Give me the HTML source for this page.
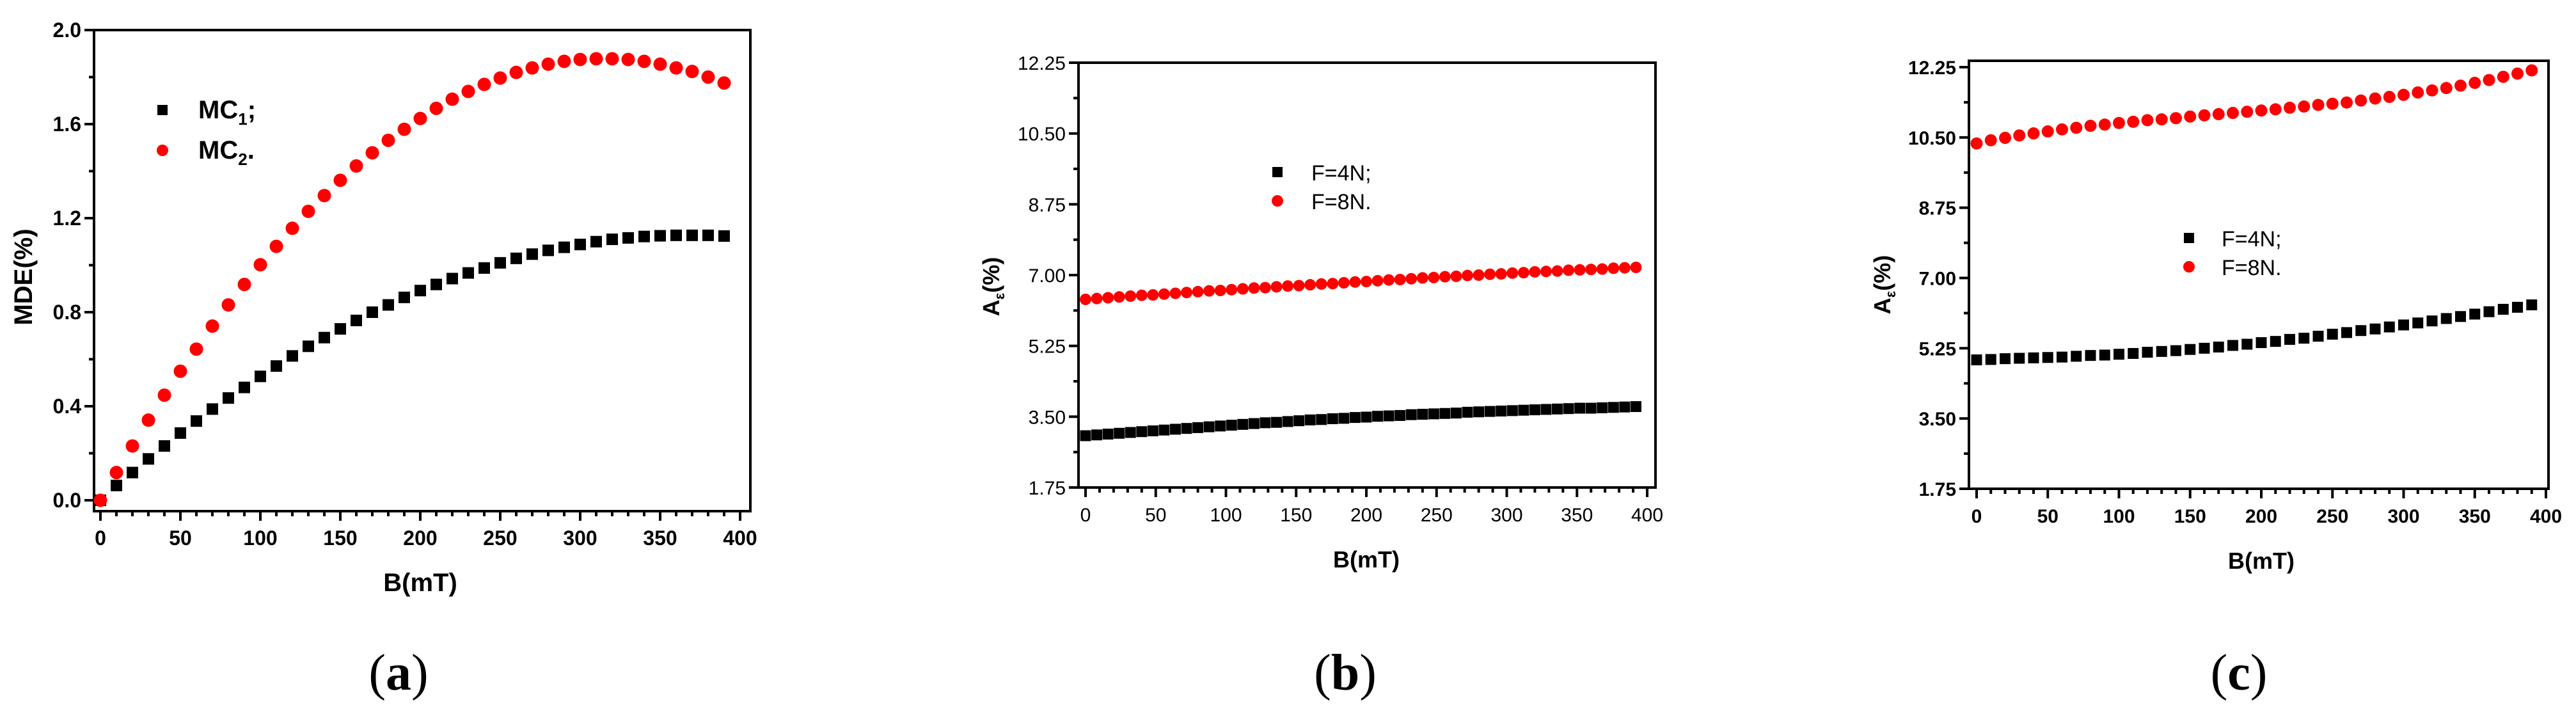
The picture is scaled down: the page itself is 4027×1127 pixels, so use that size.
<!DOCTYPE html>
<html><head><meta charset="utf-8"><style>
html,body{margin:0;padding:0;background:#fff}
svg{display:block}
text{font-family:"Liberation Sans",Arial,sans-serif}
</style></head><body>
<svg id="fig" width="4027" height="1127" viewBox="0 0 4027 1127" xmlns="http://www.w3.org/2000/svg"></svg>
<script>
// Panel (a) data
const aX = [0,10,20,30,40,50,60,70,80,90,100,110,120,130,140,150,160,170,180,190,200,210,220,230,240,250,260,270,280,290,300,310,320,330,340,350,360,370,380,390];
const aMC1 = [0,0.063,0.118,0.176,0.231,0.286,0.337,0.388,0.435,0.48,0.527,0.571,0.614,0.655,0.692,0.729,0.765,0.8,0.831,0.863,0.892,0.918,0.943,0.967,0.988,1.01,1.029,1.047,1.063,1.076,1.088,1.1,1.11,1.116,1.122,1.125,1.127,1.127,1.127,1.124];
const aMC2 = [0,0.118,0.231,0.341,0.447,0.549,0.643,0.741,0.831,0.918,1.002,1.08,1.157,1.229,1.296,1.361,1.422,1.478,1.531,1.578,1.624,1.667,1.706,1.739,1.769,1.796,1.82,1.839,1.855,1.867,1.875,1.878,1.878,1.875,1.867,1.855,1.839,1.824,1.8,1.775];
const aYTicks = ["0.0","0.4","0.8","1.2","1.6","2.0"];
const xTicks = ["0","50","100","150","200","250","300","350","400"];
// Panel (b) data
const bX = [0,8,16,24,32,40,48,56,64,72,80,88,96,104,112,120,128,136,144,152,160,168,176,184,192,200,208,216,224,232,240,248,256,264,272,280,288,296,304,312,320,328,336,344,352,360,368,376,384,392];
const bF4 = [3.03,3.05,3.07,3.09,3.11,3.13,3.15,3.17,3.19,3.21,3.23,3.25,3.27,3.29,3.31,3.33,3.35,3.36,3.38,3.40,3.42,3.43,3.45,3.46,3.48,3.49,3.51,3.52,3.53,3.55,3.56,3.57,3.58,3.59,3.61,3.62,3.63,3.64,3.65,3.66,3.67,3.68,3.69,3.70,3.71,3.71,3.72,3.73,3.74,3.75];
const bF8 = [6.40,6.42,6.44,6.46,6.48,6.50,6.51,6.53,6.55,6.57,6.59,6.61,6.62,6.64,6.66,6.68,6.69,6.71,6.73,6.74,6.76,6.78,6.79,6.81,6.83,6.84,6.86,6.88,6.89,6.91,6.93,6.94,6.96,6.97,6.99,7.00,7.02,7.03,7.05,7.06,7.08,7.09,7.10,7.12,7.13,7.14,7.15,7.17,7.18,7.19];
const aeTicks = ["1.75","3.50","5.25","7.00","8.75","10.50","12.25"];
// Panel (c) data
const cX = aX;
const cF4 = [4.96,4.97,4.99,5.00,5.01,5.02,5.03,5.05,5.07,5.08,5.10,5.12,5.15,5.17,5.19,5.22,5.25,5.28,5.32,5.35,5.39,5.42,5.47,5.50,5.55,5.60,5.64,5.69,5.73,5.78,5.83,5.88,5.93,5.99,6.04,6.10,6.16,6.22,6.27,6.33];
const cF8 = [10.35,10.43,10.49,10.55,10.60,10.65,10.70,10.74,10.79,10.82,10.86,10.89,10.93,10.95,10.98,11.02,11.05,11.08,11.11,11.14,11.17,11.20,11.24,11.27,11.31,11.34,11.37,11.42,11.47,11.51,11.56,11.62,11.67,11.73,11.79,11.86,11.93,12.01,12.09,12.17];

const NS="http://www.w3.org/2000/svg";
const svg=document.getElementById('fig');
function mk(tag,attrs,parent){const e=document.createElementNS(NS,tag);for(const k in attrs)e.setAttribute(k,attrs[k]);(parent||svg).appendChild(e);return e;}

function panel(p){
  const g=mk('g',{});
  
  
  const sx=v=>p.x0px+(v-0)*(p.x400px-p.x0px)/400;
  const ymin=parseFloat(p.yTicks[0]), ymax=parseFloat(p.yTicks[p.yTicks.length-1]);
  const sy=v=>p.yMinPx+(v-ymin)*(p.yMaxPx-p.yMinPx)/(ymax-ymin);
  const fr=mk('rect',{x:p.L,y:p.T,width:p.R-p.L,height:p.B-p.T,fill:'none',stroke:'#000','stroke-width':4},g);
  
  
  const xt=mk('g',{},g);
  
  
  for(let v=0;v<=400;v+=10){
    const major=v%50===0;
    mk('line',{x1:sx(v),x2:sx(v),y1:p.B,y2:p.B+(major?15:8),stroke:'#000','stroke-width':4},xt);
  }
  xTicks.forEach(t=>{
    const tx=mk('text',{x:sx(+t),y:p.B+53,'text-anchor':'middle','font-size':p.tickFs,'font-weight':p.tickBold?'bold':'normal'},xt);
    tx.textContent=t;
    
    
  });
  const yt=mk('g',{},g);
  
  
  const step=(parseFloat(p.yTicks[1])-ymin);
  for(let i=0;i<p.yTicks.length;i++){
    const v=ymin+i*step;
    mk('line',{x1:p.L-15,x2:p.L,y1:sy(v),y2:sy(v),stroke:'#000','stroke-width':4},yt);
    if(i<p.yTicks.length-1) mk('line',{x1:p.L-8,x2:p.L,y1:sy(v+step/2),y2:sy(v+step/2),stroke:'#000','stroke-width':4},yt);
    const tx=mk('text',{x:p.L-20,y:sy(v)+11,'text-anchor':'end','font-size':p.tickFs,'font-weight':p.tickBold?'bold':'normal'},yt);
    tx.textContent=p.yTicks[i];
    
    
  }
  const s1=mk('g',{},g);
  
  
  p.xs.forEach((x,i)=>{
    const r=mk('rect',{x:sx(x)-p.sq/2,y:sy(p.s1[i])-p.sq/2,width:p.sq,height:p.sq,fill:'#000'},s1);
    
    
  });
  const s2=mk('g',{},g);
  
  
  p.xs.forEach((x,i)=>{
    const c=mk('circle',{cx:sx(x),cy:sy(p.s2[i]),r:p.cr,fill:'#f00'},s2);
    
    
  });
  const lg=mk('g',{},g);
  
  
  mk('rect',{x:p.legX-8,y:p.legY1-8,width:16,height:16,fill:'#000'},lg);
  mk('circle',{cx:p.legX,cy:p.legY2,r:9,fill:'#f00'},lg);
  const l1=mk('text',{x:p.legTX,y:p.legY1+13,'font-size':p.legFs,'font-weight':p.legBold?'bold':'normal'},lg);
  l1.innerHTML=p.leg1;
  
  
  const l2=mk('text',{x:p.legTX,y:p.legY2+13,'font-size':p.legFs,'font-weight':p.legBold?'bold':'normal'},lg);
  l2.innerHTML=p.leg2;
  
  
  const xtl=mk('text',{x:(p.x0px+p.x400px)/2,y:p.B+125,'text-anchor':'middle','font-size':p.titleFs,'font-weight':'bold'},g);
  xtl.textContent='B(mT)';
  
  
  const ytl=mk('text',{x:0,y:0,'text-anchor':'middle','font-size':p.titleFs,'font-weight':'bold',transform:`translate(${p.ytX},${p.ytY}) rotate(-90)`},g);
  ytl.innerHTML=p.yTitle;
  
  
  const cap=mk('text',{x:p.capX,y:1078,'text-anchor':'middle','font-size':80,style:'font-family:"Liberation Serif","DejaVu Serif",serif'},g);
  cap.innerHTML=p.cap;
  
  
}

panel({name:'panel-a',L:147,R:1173,T:47,B:799,x0px:157,x400px:1157,yMinPx:782,yMaxPx:47,yTicks:aYTicks,
  xs:aX,s1:aMC1,s2:aMC2,s1name:'series-mc1',s2name:'series-mc2',sq:18,cr:10.5,tickFs:32,tickBold:true,
  legX:254,legY1:172,legY2:235,legTX:310,legFs:40,legBold:true,
  leg1:'MC<tspan font-size="26" dy="10">1</tspan><tspan dy="-10">;</tspan>',
  leg2:'MC<tspan font-size="26" dy="10">2</tspan><tspan dy="-10">.</tspan>',
  titleFs:40,ytX:50,ytY:433,yTitle:'MDE(%)',capX:623,cap:'(<tspan font-weight="bold">a</tspan>)'});

panel({name:'panel-b',L:1686,R:2588,T:98,B:762,x0px:1697,x400px:2575,yMinPx:762,yMaxPx:98,yTicks:aeTicks,
  xs:bX,s1:bF4,s2:bF8,s1name:'series-f4n',s2name:'series-f8n',sq:17,cr:9,tickFs:30,tickBold:false,
  legX:1997,legY1:269,legY2:314,legTX:2050,legFs:34,legBold:false,
  leg1:'F=4N;',leg2:'F=8N.',
  titleFs:36,ytX:1562,ytY:448,yTitle:'A<tspan font-size="22" dy="8">ε</tspan><tspan dy="-8">(%)</tspan>',capX:2103,cap:'(<tspan font-weight="bold">b</tspan>)'});

panel({name:'panel-c',L:3078,R:3984,T:95,B:764,x0px:3090,x400px:3980,yMinPx:764,yMaxPx:105,yTicks:aeTicks,
  xs:cX,s1:cF4,s2:cF8,s1name:'series-f4n',s2name:'series-f8n',sq:17,cr:9.5,tickFs:30,tickBold:true,
  legX:3422,legY1:372,legY2:417,legTX:3473,legFs:34,legBold:false,
  leg1:'F=4N;',leg2:'F=8N.',
  titleFs:36,ytX:2955,ytY:445,yTitle:'A<tspan font-size="22" dy="8">ε</tspan><tspan dy="-8">(%)</tspan>',capX:3500,cap:'(<tspan font-weight="bold">c</tspan>)'});
</script>
</body></html>
